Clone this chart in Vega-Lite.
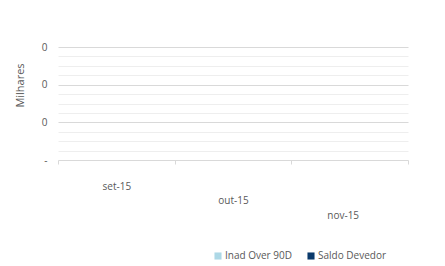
{
  "$schema": "https://vega.github.io/schema/vega-lite/v6.json",
  "width": 350,
  "height": 113,
  "autosize": {"type": "none"},
  "padding": {"left": 58, "top": 47, "right": 37, "bottom": 106},
  "background": "white",
  "config": {
    "view": {"stroke": null},
    "font": "Open Sans",
    "axis": {"labelColor": "#595959", "titleColor": "#595959", "labelFont": "Open Sans", "titleFont": "Open Sans", "labelFontSize": 10, "titleFontSize": 10, "titleFontWeight": "normal"},
    "legend": {"labelColor": "#595959", "labelFont": "Open Sans", "labelFontSize": 10}
  },
  "data": {
    "values": [
      {"mes": "set-15", "serie": "Inad Over 90D", "valor": 0},
      {"mes": "set-15", "serie": "Saldo Devedor", "valor": 0},
      {"mes": "out-15", "serie": "Inad Over 90D", "valor": 0},
      {"mes": "out-15", "serie": "Saldo Devedor", "valor": 0},
      {"mes": "nov-15", "serie": "Inad Over 90D", "valor": 0},
      {"mes": "nov-15", "serie": "Saldo Devedor", "valor": 0}
    ]
  },
  "mark": {"type": "bar"},
  "encoding": {
    "x": {
      "field": "mes", "type": "nominal", "sort": ["set-15", "out-15", "nov-15"],
      "scale": {"paddingInner": 0, "paddingOuter": 0},
      "axis": {
        "title": null, "labelAngle": 0, "domain": false,
        "tickBand": "extent", "tickColor": "#d9d9d9", "tickSize": 4,
        "labelPadding": {"condition": [
          {"test": "datum.value === 'out-15'", "value": 31},
          {"test": "datum.value === 'nov-15'", "value": 46}
        ], "value": 17},
        "labelOffset": {"condition": {"test": "datum.value === 'nov-15'", "value": -7}, "value": 0}
      }
    },
    "xOffset": {"field": "serie", "type": "nominal"},
    "y": {
      "field": "valor", "type": "quantitative",
      "scale": {"domain": [0, 3], "nice": false},
      "axis": {
        "title": "Milhares", "titleX": -38, "titleY": 38, "titleAngle": -90,
        "titleAlign": "center", "titleBaseline": "middle", "titleFontSize": 11,
        "domain": false, "ticks": false, "labelPadding": 11,
        "values": [0, 0.25, 0.5, 0.75, 1, 1.25, 1.5, 1.75, 2, 2.25, 2.5, 2.75, 3],
        "labelExpr": "datum.value == 0 ? '-' : (datum.value % 1 == 0 ? '0' : '')",
        "gridColor": {"condition": {"test": "datum.value % 1 == 0", "value": "#d9d9d9"}, "value": "#eeeeee"}
      }
    },
    "color": {
      "field": "serie", "type": "nominal",
      "scale": {"domain": ["Inad Over 90D", "Saldo Devedor"], "range": ["#add8e6", "#0b3a6b"]},
      "legend": {"title": null, "orient": "none", "direction": "horizontal", "legendX": 155, "legendY": 204, "symbolType": "square", "symbolSize": 50, "symbolStrokeWidth": 0, "columnPadding": 14, "labelOffset": 2}
    }
  }
}
